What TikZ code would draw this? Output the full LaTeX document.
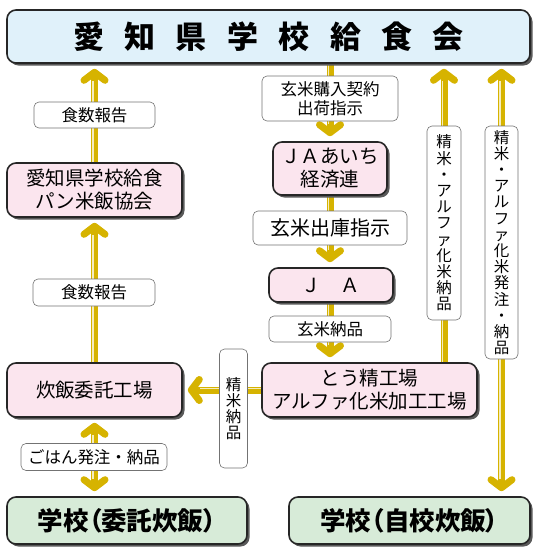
\documentclass[tikz,border=0pt]{standalone}
\usepackage{fontspec}
\setmainfont{Noto Sans CJK JP}
\usetikzlibrary{arrows.meta,shadows,backgrounds}
\definecolor{hdrfill}{HTML}{E0F1FA}
\definecolor{pinkfill}{HTML}{FBE5EE}
\definecolor{greenfill}{HTML}{D7EBD8}
\definecolor{yel}{HTML}{D6B300}
\newcommand\tsp{\hspace{20.4pt}}
\begin{document}
\begin{tikzpicture}[x=1pt,y=-1pt,
  box/.style={draw=black!85, line width=1.6pt, rounded corners=9pt, inner sep=0pt, align=center,
    drop shadow={shadow xshift=2.5pt, shadow yshift=-2.5pt, fill=black!65, opacity=1}},
  pinkbox/.style={box, fill=pinkfill, font=\fontsize{19.5}{23}\selectfont},
  schoolbox/.style={box, fill=greenfill, font=\fontsize{25.5}{28}\bfseries\addfontfeatures{RawFeature=+palt}},
  lab/.style={draw=black!55, line width=0.6pt, fill=white, rounded corners=5pt, inner sep=0pt, align=center,
    font=\fontsize{16.5}{19}\selectfont},
  vlab/.style={lab, font=\fontsize{15.5}{16.2}\selectfont},
  tipb/.tip={Straight Barb[length=8pt,width=21pt,round]},
  arrbase/.style={draw=yel, line width=7pt},
  hl/.style={postaction={draw=white!75!yel, line width=1.3pt, -, shorten >=17pt, shorten <=0pt, transform canvas={#1}}},
  arr/.style={arrbase, -tipb, shorten >=5pt, hl={#1}},
  arrb/.style={arrbase, tipb-tipb, shorten >=5pt, shorten <=5pt,
    postaction={draw=white!75!yel, line width=1.3pt, -, shorten >=17pt, shorten <=17pt, transform canvas={#1}}}
]
\useasboundingbox (0,0) rectangle (539,558);
% main boxes
\node[box, fill=hdrfill, minimum width=523pt, minimum height=53pt, font=\fontsize{31}{31}\bfseries] (hdr) at (268.5,36.5)
  {愛\tsp 知\tsp 県\tsp 学\tsp 校\tsp 給\tsp 食\tsp 会};
\node[pinkbox, minimum width=175pt, minimum height=54pt] (pan) at (94.5,190) {愛知県学校給食\\パン米飯協会};
\node[pinkbox, minimum width=175pt, minimum height=54pt] (ens) at (94.5,390) {炊飯委託工場};
\node[pinkbox, minimum width=114pt, minimum height=53pt] (ja1) at (330,168.5) {ＪＡあいち\\経済連};
\node[pinkbox, minimum width=124pt, minimum height=34pt] (ja2) at (331,285) {Ｊ　Ａ};
\node[pinkbox, minimum width=215pt, minimum height=54pt] (tou) at (369.5,390) {とう精工場\\アルファ化米加工工場};
\node[schoolbox, minimum width=240pt, minimum height=47pt] (sc1) at (127,520.5) {学校（委託炊飯）};
\node[schoolbox, minimum width=241pt, minimum height=47pt] (sc2) at (409.5,520.5) {学校（自校炊飯）};
% labels
\node[lab, minimum width=121pt, minimum height=26pt] (l1) at (94.5,115) {食数報告};
\node[lab, minimum width=122pt, minimum height=27pt] (l2) at (94,292.5) {食数報告};
\node[lab, minimum width=146pt, minimum height=27pt] (l3) at (94,457) {ごはん発注・納品};
\node[lab, minimum width=136pt, minimum height=45pt] (l4) at (330,98.5) {玄米購入契約\\出荷指示};
\node[lab, minimum width=154pt, minimum height=34pt, font=\fontsize{20}{22}\selectfont] (l5) at (330,228) {玄米出庫指示};
\node[lab, minimum width=122pt, minimum height=26pt] (l6) at (330,329) {玄米納品};
\node[vlab, minimum width=34pt, minimum height=194pt] (v1) at (444,223) {精\\米\\・\\ア\\ル\\フ\\ァ\\化\\米\\納\\品};
\node[vlab, minimum width=33pt, minimum height=233pt] (v2) at (501.5,242.5) {精\\米\\・\\ア\\ル\\フ\\ァ\\化\\米\\発\\注\\・\\納\\品};
\node[vlab, minimum width=28pt, minimum height=119pt] (v3) at (233.5,408.5) {精\\米\\納\\品};
% arrows
\begin{scope}[on background layer]
\draw[arr={xshift=-1.6pt}] (pan.north) -- (pan.north |- hdr.south);
\draw[arr={xshift=-1.6pt}] (ens.north) -- (ens.north |- pan.south);
\draw[arrb={xshift=-1.6pt}] (ens.south) -- (ens.south |- sc1.north);
\draw[arr={xshift=-1.6pt}] (ja1.north |- hdr.south) -- (ja1.north);
\draw[arr={xshift=-1.6pt}] (ja1.south) -- (ja1.south |- ja2.north);
\draw[arr={xshift=-1.6pt}] (ja1.south |- ja2.south) -- (ja1.south |- tou.north);
\draw[arr={yshift=1.6pt}] (tou.west) -- (ens.east);
\draw[arr={xshift=-1.6pt}] (v1 |- tou.north) -- (v1 |- hdr.south);
\draw[arrb={xshift=-1.6pt}] (v2 |- hdr.south) -- (v2 |- sc2.north);
\end{scope}
\end{tikzpicture}
\end{document}
